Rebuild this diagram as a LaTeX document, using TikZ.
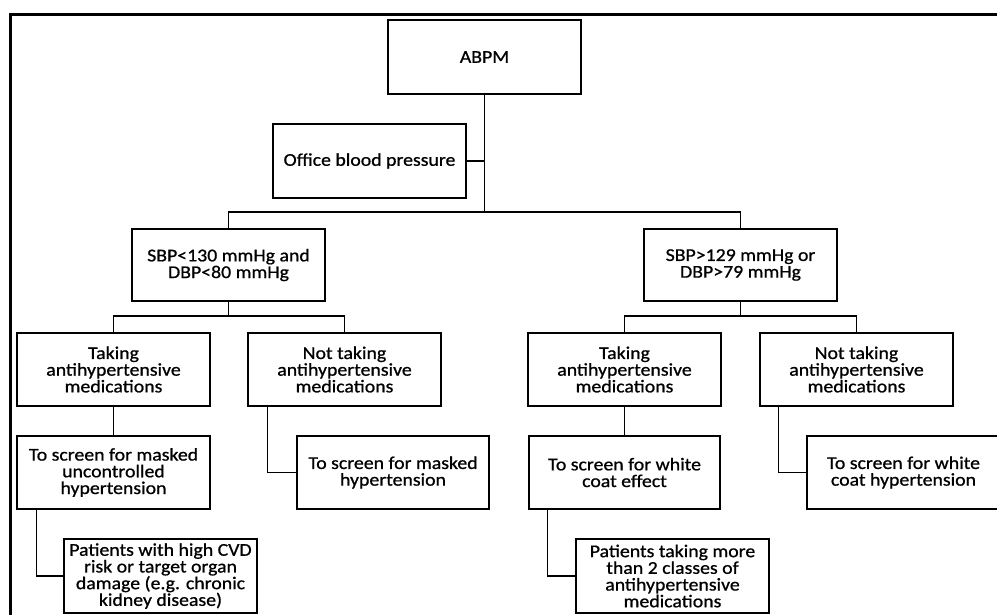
\documentclass[tikz,border=0pt]{standalone}
\usepackage{fontspec}
\setmainfont[FakeStretch=1.1,FakeBold=0.8]{Carlito}
\begin{document}
\begin{tikzpicture}[x=1pt,y=-1pt,
  box/.style={draw,line width=1.5pt,minimum width=193pt,minimum height=73pt,
    inner sep=0pt,align=center,font=\fontsize{18pt}{16.7pt}\selectfont},
  conn/.style={line width=1.5pt}]
\useasboundingbox (0,0) rectangle (997,615);
\fill[white] (0,0) rectangle (997,615);
\draw[line width=3pt,line join=miter] (10.5,615) -- (10.5,14.5) -- (997,14.5);

\node[box,minimum height=74pt] (abpm) at (484.5,57) {ABPM};
\node[box,minimum height=74pt] (office) at (369.5,161) {Office blood pressure};
\node[box,minimum height=72pt] (low) at (228.5,265) {SBP<130 mmHg and\\DBP<80 mmHg};
\node[box,minimum height=72pt] (high) at (740.5,265) {SBP>129 mmHg or\\DBP>79 mmHg};

\node[box] (takL) at (113.5,369.5) {Taking\\antihypertensive\\medications};
\node[box] (notL) at (344.5,369.5) {Not taking\\antihypertensive\\medications};
\node[box] (takR) at (624.5,369.5) {Taking\\antihypertensive\\medications};
\node[box] (notR) at (856.5,369.5) {Not taking\\antihypertensive\\medications};

\node[box] (muh) at (113.5,472.5) {To screen for masked\\uncontrolled\\hypertension};
\node[box,minimum width=192pt] (mh) at (393,472.5) {To screen for masked\\hypertension};
\node[box,minimum width=191pt] (wce) at (624.5,472.5) {To screen for white\\coat effect};
\node[box] (wch) at (903.5,472.5) {To screen for white\\coat hypertension};

\node[box,minimum height=74pt] (patL) at (160.5,576) {Patients with high CVD\\risk or target organ\\damage (e.g. chronic\\kidney disease)};
\node[box,minimum height=74pt] (patR) at (672.5,576) {Patients taking more\\than 2 classes of\\antihypertensive\\medications};

\coordinate (j1) at (484.5,212);
\coordinate (j2) at (228.5,316);
\coordinate (j3) at (740.5,316);

\draw[conn] (abpm.south) -- (j1);
\draw[conn] (office.east) -- (office.east -| j1);
\draw[conn] (j1) -| (low.north);
\draw[conn] (j1) -| (high.north);

\draw[conn] (low.south) -- (j2);
\draw[conn] (j2) -| (takL.north);
\draw[conn] (j2) -| (notL.north);
\draw[conn] (high.south) -- (j3);
\draw[conn] (j3) -| (takR.north);
\draw[conn] (j3) -| (notR.north);

\draw[conn] (takL.south) -- (muh.north);
\draw[conn] (takR.south) -- (wce.north);
\draw[conn] ([xshift=20pt]notL.south west) |- (mh.west);
\draw[conn] ([xshift=19pt]notR.south west) |- (wch.west);
\draw[conn] ([xshift=20pt]muh.south west) |- (patL.west);
\draw[conn] ([xshift=19pt]wce.south west) |- (patR.west);
\end{tikzpicture}
\end{document}
